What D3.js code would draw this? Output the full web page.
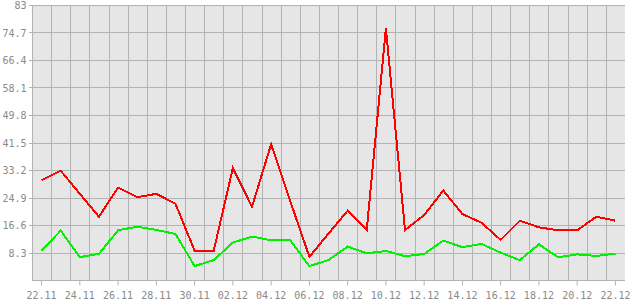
<!DOCTYPE html>
<html>
<head>
<meta charset="utf-8">
<script src="https://cdn.jsdelivr.net/npm/d3@7"></script>
<style>
  body { margin: 0; background: #fff; }
  text { font-family: "DejaVu Sans Mono", monospace; font-size: 10px; fill: #8a8a8a; }
</style>
</head>
<body>
<div id="chart"></div>
<script>
// dias (22.11 - 22.12)
var days = ["22.11","23.11","24.11","25.11","26.11","27.11","28.11","29.11","30.11","01.12",
            "02.12","03.12","04.12","05.12","06.12","07.12","08.12","09.12","10.12","11.12",
            "12.12","13.12","14.12","15.12","16.12","17.12","18.12","19.12","20.12","21.12","22.12"];

// serie roja
var redValues = [30.1, 33.0, 26.0, 19.1, 27.9, 25.0, 26.0, 23.0, 8.85, 8.85,
                 33.8, 22.1, 41.0, 23.8, 7.0, 14.0, 20.9, 15.1, 76.0, 15.1,
                 19.6, 27.0, 19.9, 17.3, 12.1, 17.9, 15.9, 15.0, 15.0, 19.1, 17.9];

// serie verde
var greenValues = [8.8, 14.9, 6.9, 7.9, 15.0, 16.1, 15.1, 13.9, 4.2, 6.0,
                   11.3, 13.1, 12.0, 12.0, 4.2, 6.0, 10.1, 8.05, 8.75, 7.2,
                   7.85, 11.9, 9.9, 10.9, 8.25, 6.0, 10.8, 6.85, 7.75, 7.25, 7.95];

var yTicks = [8.3, 16.6, 24.9, 33.2, 41.5, 49.8, 58.1, 66.4, 74.7, 83];

var width = 630, height = 300;
var plot = { left: 32, right: 625, top: 5, bottom: 280 };

var svg = d3.select("#chart").append("svg")
    .attr("width", width)
    .attr("height", height);

var x = d3.scaleBand().domain(days).range([plot.left, plot.right]).padding(0);
var y = d3.scaleLinear().domain([0, 83]).range([plot.bottom, plot.top]);

// fondo
svg.append("rect")
    .attr("x", plot.left).attr("y", plot.top)
    .attr("width", plot.right - plot.left).attr("height", plot.bottom - plot.top)
    .attr("fill", "#e6e6e6");

// rejilla vertical (bordes de cada dia)
svg.append("g")
    .selectAll("line")
    .data(days.slice(1))
    .enter().append("line")
    .attr("x1", function(d) { return Math.round(x(d)) + 0.5; })
    .attr("x2", function(d) { return Math.round(x(d)) + 0.5; })
    .attr("y1", plot.top).attr("y2", plot.bottom)
    .attr("stroke", "#b3b3b3");

// rejilla horizontal
svg.append("g")
    .selectAll("line")
    .data(yTicks)
    .enter().append("line")
    .attr("x1", plot.left - 3).attr("x2", plot.right)
    .attr("y1", function(d) { return Math.round(y(d)) + 0.5; })
    .attr("y2", function(d) { return Math.round(y(d)) + 0.5; })
    .attr("stroke", "#b3b3b3");

// eje y
var yAxis = svg.append("g")
    .attr("transform", "translate(" + (plot.left + 0.5) + ",0.5)")
    .call(d3.axisLeft(y).tickValues(yTicks).tickSize(0).tickPadding(6).tickFormat(function(d) { return d; }));
yAxis.select(".domain").attr("stroke", "#b3b3b3").attr("d", "M0," + plot.top + "V" + plot.bottom);

// eje x
var xAxis = svg.append("g")
    .attr("transform", "translate(0," + (plot.bottom + 0.5) + ")")
    .call(d3.axisBottom(x)
        .tickValues(days.filter(function(d, i) { return i % 2 === 0; }))
        .tickSize(5).tickPadding(6));
xAxis.select(".domain").attr("stroke", "#b3b3b3").attr("d", "M" + plot.left + ",0H" + plot.right);
xAxis.selectAll(".tick line").attr("stroke", "#b3b3b3");

var line = d3.line()
    .x(function(d, i) { return x(days[i]) + x.bandwidth() / 2; })
    .y(function(d) { return y(d); });

svg.append("path")
    .datum(greenValues)
    .attr("fill", "none")
    .attr("stroke", "#00f000")
    .attr("stroke-width", 2)
    .attr("shape-rendering", "crispEdges")
    .attr("d", line);

svg.append("path")
    .datum(redValues)
    .attr("fill", "none")
    .attr("stroke", "#ff0000")
    .attr("stroke-width", 2)
    .attr("shape-rendering", "crispEdges")
    .attr("d", line);
</script>
</body>
</html>
